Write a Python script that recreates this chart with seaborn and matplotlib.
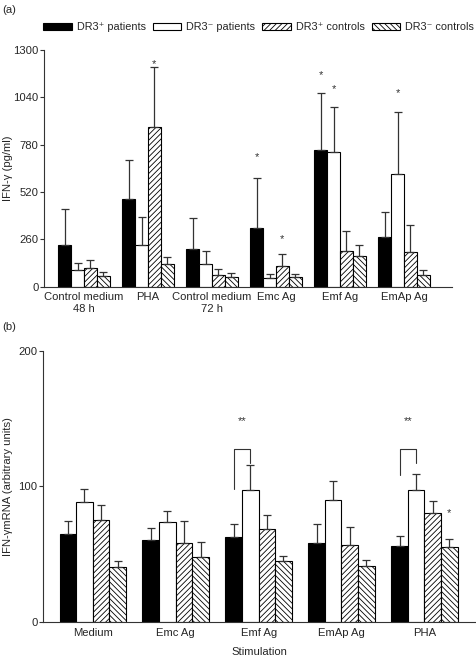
import matplotlib
matplotlib.use("Agg")
import matplotlib.pyplot as plt
import seaborn as sns
import pandas as pd
import numpy as np
from matplotlib.patches import Patch
from matplotlib.container import BarContainer

# ---------------- data ----------------
series = ["DR3⁺ patients", "DR3⁻ patients", "DR3⁺ controls", "DR3⁻ controls"]

groups_a = ["Control medium\n48 h", "PHA", "Control medium\n72 h", "Emc Ag", "Emf Ag", "EmAp Ag"]
a_dr3p_pat = [229, 483, 207, 322, 749, 271]
a_dr3m_pat = [92, 227, 126, 48, 742, 621]
a_dr3p_ctl = [101, 879, 62, 115, 194, 192]
a_dr3m_ctl = [59, 123, 51, 51, 167, 62]
a_dr3p_pat_top = [425, 698, 375, 595, 1062, 408]
a_dr3m_pat_top = [128, 381, 196, 71, 985, 961]
a_dr3p_ctl_top = [145, 1205, 99, 179, 306, 337]
a_dr3m_ctl_top = [81, 161, 73, 68, 227, 90]
# significance stars: (group index, series index, y)
a_stars = [(1, 2, 1241), (3, 0, 732), (3, 2, 282), (4, 0, 1181), (4, 1, 1102), (5, 1, 1084)]
a_ticks = [0, 260, 520, 780, 1040, 1300]

groups_b = ["Medium", "Emc Ag", "Emf Ag", "EmAp Ag", "PHA"]
b_dr3p_pat = [64.8, 60.6, 62.3, 58.4, 56.2]
b_dr3m_pat = [88.3, 73.6, 97.4, 90.1, 97.2]
b_dr3p_ctl = [75.1, 57.9, 68.2, 56.7, 80.2]
b_dr3m_ctl = [40.5, 47.6, 44.9, 41.2, 55.2]
b_dr3p_pat_top = [74.8, 69.0, 72.4, 72.1, 63.1]
b_dr3m_pat_top = [97.7, 82.0, 115.6, 104.0, 109.2]
b_dr3p_ctl_top = [86.6, 74.8, 78.8, 70.2, 89.3]
b_dr3m_ctl_top = [44.7, 58.9, 48.3, 45.6, 61.1]
# brackets between DR3+ and DR3- patients: group, left bottom, top, right bottom, label y
b_brackets = [(2, 98.4, 127.6, 117.0, 150.7), (4, 108.2, 127.6, 117.5, 150.7)]
b_stars = [(4, 3, 82.9)]
b_ticks = [0, 100, 200]

colors = ["black", "white", "white", "white"]
hatches = [None, None, "//////", "\\\\\\\\\\\\"]

# ---------------- style ----------------
sns.set_style("ticks")
plt.rcParams["font.family"] = ["Liberation Sans", "DejaVu Sans"]
plt.rcParams["hatch.linewidth"] = 0.6
plt.rcParams["hatch.color"] = "black"
FS = 8.1

fig = plt.figure(figsize=(4.77, 6.61), dpi=100)
ax_a = fig.add_axes([0.0922, 0.5663, 0.9476 - 0.0922, 0.9244 - 0.5663])
ax_b = fig.add_axes([0.0901, 0.059, 0.9958 - 0.0901, 0.4694 - 0.059])


def draw(ax, groups, vals, tops, ylim, ticks):
    rows = []
    for s, v in zip(series, vals):
        for g, x in zip(groups, v):
            rows.append({"group": g, "series": s, "value": x})
    df = pd.DataFrame(rows)
    sns.barplot(data=df, x="group", y="value", hue="series", order=groups,
                hue_order=series, palette=colors, saturation=1, width=0.8,
                edgecolor="black", linewidth=0.8, errorbar=None, legend=False, ax=ax)
    bars = [c for c in ax.containers if isinstance(c, BarContainer)]
    centers = []
    for ci, cont in enumerate(bars):
        xs = []
        for p in cont.patches:
            if hatches[ci]:
                p.set_hatch(hatches[ci])
            xs.append(p.get_x() + p.get_width() / 2)
        xs = np.array(xs)
        centers.append(xs)
        v = np.array(vals[ci], float)
        t = np.array(tops[ci], float)
        ax.errorbar(xs, v, yerr=[np.zeros_like(v), t - v], fmt="none",
                    ecolor="#333333", elinewidth=0.9, capsize=2.9, capthick=0.9, zorder=1)
    ax.set_ylim(*ylim)
    ax.set_yticks(ticks)
    ax.tick_params(axis="y", length=3, width=0.8, pad=1, labelsize=FS, color="#333333")
    ax.tick_params(axis="x", length=0, pad=4, labelsize=FS)
    sns.despine(ax=ax)
    for sp in ["left", "bottom"]:
        ax.spines[sp].set_linewidth(0.8)
        ax.spines[sp].set_color("#333333")
    ax.set_xlabel("")
    return centers


def star(ax, x, y, txt="*"):
    ax.annotate(txt, xy=(x, y), xytext=(0, -0.58 * 8), textcoords="offset points",
                ha="center", va="baseline", fontsize=8, color="#333333")


# panel (a)
ca = draw(ax_a, groups_a, [a_dr3p_pat, a_dr3m_pat, a_dr3p_ctl, a_dr3m_ctl],
          [a_dr3p_pat_top, a_dr3m_pat_top, a_dr3p_ctl_top, a_dr3m_ctl_top], (0, 1300), a_ticks)
ax_a.set_xlim(-0.625, 5.75)
ax_a.set_ylabel("IFN-γ (pg/ml)", fontsize=FS)
ax_a.yaxis.set_label_coords(-0.076, 0.5)
for g, s, y in a_stars:
    star(ax_a, ca[s][g], y)

# panel (b)
cb = draw(ax_b, groups_b, [b_dr3p_pat, b_dr3m_pat, b_dr3p_ctl, b_dr3m_ctl],
          [b_dr3p_pat_top, b_dr3m_pat_top, b_dr3p_ctl_top, b_dr3m_ctl_top], (0, 200), b_ticks)
ax_b.set_xlim(-0.6, 4.61)
ax_b.set_ylabel("IFN-γmRNA (arbitrary units)", fontsize=FS)
ax_b.yaxis.set_label_coords(-0.069, 0.5)
ax_b.set_xlabel("Stimulation", fontsize=FS, labelpad=7)
for g, lb, top, rb, ly in b_brackets:
    xl, xr = cb[0][g], cb[1][g]
    ax_b.plot([xl, xl, xr, xr], [lb, top, top, rb], color="#333333", lw=0.8)
    star(ax_b, (xl + xr) / 2, ly, "**")
for g, s, y in b_stars:
    star(ax_b, cb[s][g], y)

# legend
handles = [Patch(facecolor=c, edgecolor="black", hatch=h, linewidth=0.8)
           for c, h in zip(colors, hatches)]
fig.legend(handles, series, loc="center left", bbox_to_anchor=(43 / 477, 0.959), ncol=4,
           frameon=False, fontsize=7.8, handlelength=2.65, handleheight=0.7,
           handletextpad=0.45, columnspacing=0.65, borderpad=0, borderaxespad=0)

fig.text(0.005, 0.993, "(a)", fontsize=FS, va="top", ha="left")
fig.text(0.005, 0.513, "(b)", fontsize=FS, va="top", ha="left")

fig.savefig("out.png", dpi=100)
